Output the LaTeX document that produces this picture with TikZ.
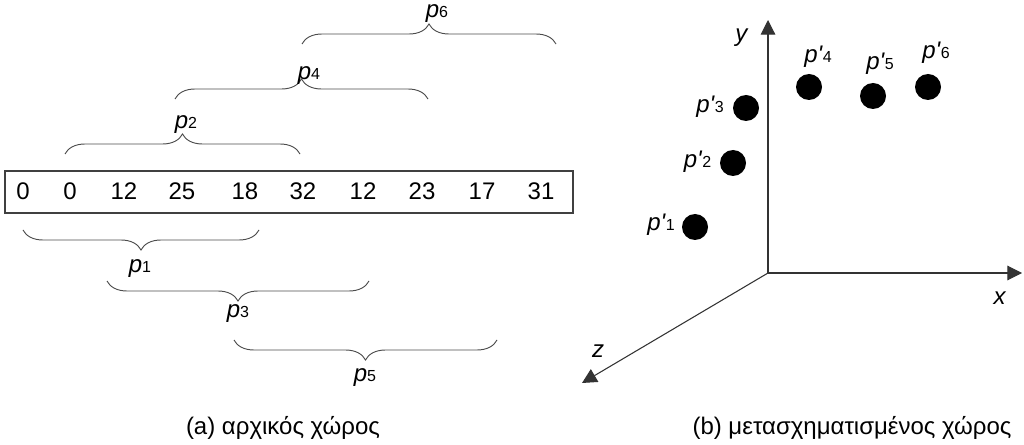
\documentclass[tikz,border=0pt]{standalone}
\usepackage{fontspec}
\setmainfont{Liberation Sans}
\usetikzlibrary{arrows.meta,decorations.pathreplacing}
\newcommand\plab[1]{\textit{p}{\fontsize{12}{14}\selectfont #1}}
\newcommand\pplab[1]{\textit{p\textquotesingle}{\fontsize{12}{14}\selectfont #1}}
\begin{document}
\begin{tikzpicture}[x=0.75pt,y=-0.75pt,
  every node/.style={font=\fontsize{18}{21}\selectfont, inner sep=0pt},
  numb/.style={anchor=center},
  lab/.style={anchor=base},
  brc/.style={draw=black!70, line width=0.7pt, decorate, decoration={brace, amplitude=15pt}},
  brcm/.style={brc, decoration={brace, amplitude=15pt, mirror}},
  axis/.style={draw=black!80, line width=0.8pt, -{Triangle[length=11pt,width=11pt]}},
  dot/.style={circle, fill=black, minimum size=19.5pt, inner sep=0pt}]
\useasboundingbox (0,0) rectangle (1024,445);
% array box
\draw[draw=black!75, line width=0.8pt] (5,171) rectangle (573,213);
\node[numb] (n1) at (23,191) {0};
\node[numb] (n2) at (70,191) {0};
\node[numb] (n3) at (124,191) {12};
\node[numb] (n4) at (182,191) {25};
\node[numb] (n5) at (245,191) {18};
\node[numb] (n6) at (303,191) {32};
\node[numb] (n7) at (363,191) {12};
\node[numb] (n8) at (422,191) {23};
\node[numb] (n9) at (482,191) {17};
\node[numb] (n10) at (541,191) {31};
% braces above
\coordinate (b2l) at (65,154); \coordinate (b2r) at (300,154);
\coordinate (b4l) at (175,99); \coordinate (b4r) at (428,99);
\coordinate (b6l) at (302,44); \coordinate (b6r) at (556,44);
\draw[brc] (b2l) -- (b2r);
\draw[brc] (b4l) -- (b4r);
\draw[brc] (b6l) -- (b6r);
\node[lab] (p2) at (186,128.5) {\plab{2}};
\node[lab] (p4) at (309,80) {\plab{4}};
\node[lab] (p6) at (437,17.5) {\plab{6}};
% braces below
\coordinate (b1l) at (23,230); \coordinate (b1r) at (259,230);
\coordinate (b3l) at (107,281); \coordinate (b3r) at (369,281);
\coordinate (b5l) at (234,340); \coordinate (b5r) at (497,340);
\draw[brcm] (b1l) -- (b1r);
\draw[brcm] (b3l) -- (b3r);
\draw[brcm] (b5l) -- (b5r);
\node[lab] (p1) at (140,272.5) {\plab{1}};
\node[lab] (p3) at (238,317.5) {\plab{3}};
\node[lab] (p5) at (365,381.5) {\plab{5}};
% axes
\coordinate (O) at (768,273);
\coordinate (ytip) at (768,20);
\coordinate (xtip) at (1022,273);
\coordinate (ztip) at (582,383);
\draw[axis] (O) -- (ytip);
\draw[axis] (O) -- (xtip);
\draw[axis] (O) -- (ztip);
\node[lab] (ly) at (742,42) {\textit{y}};
\node[lab] (lx) at (1000,305) {\textit{x}};
\node[lab] (lz) at (598,357) {\textit{z}};
% points
\node[dot] (d1) at (695,227) {};
\node[dot] (d2) at (733,163) {};
\node[dot] (d3) at (746,108) {};
\node[dot] (d4) at (809,87) {};
\node[dot] (d5) at (873,96) {};
\node[dot] (d6) at (928,87) {};
\node[lab] (q1) at (661,231) {\pplab{1}};
\node[lab] (q2) at (697.5,168) {\pplab{2}};
\node[lab] (q3) at (710,113) {\pplab{3}};
\node[lab] (q4) at (818,63) {\pplab{4}};
\node[lab] (q5) at (880,70) {\pplab{5}};
\node[lab] (q6) at (936,59) {\pplab{6}};
% captions
\node[lab] (ca) at (283,434) {(a) αρχικός χώρος};
\node[lab] (cb) at (852,434) {(b) μετασχηματισμένος χώρος};
\end{tikzpicture}
\end{document}
